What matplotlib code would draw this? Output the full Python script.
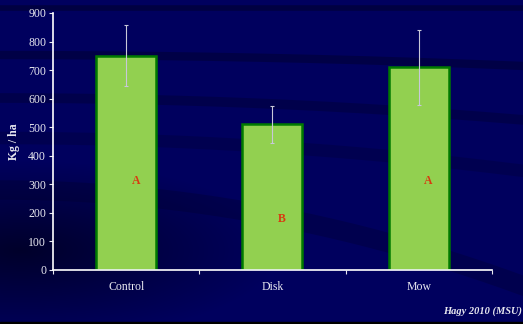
import numpy as np
import matplotlib.pyplot as plt
from matplotlib.colors import LinearSegmentedColormap

categories = ["Control", "Disk", "Mow"]
yield_kg_ha = [750, 510, 710]
yield_err = [107, 66, 132]
groups = ["A", "B", "A"]
group_label_y = [310, 180, 310]
yticks = [0, 100, 200, 300, 400, 500, 600, 700, 800, 900]

serif = ["Liberation Serif", "DejaVu Serif"]
navy = "#00005e"
fg = "#e8e8f0"

fig = plt.figure(figsize=(5.23, 3.24), dpi=100, facecolor=navy)

# Slide-style backdrop: navy field with darker sweeping bands
bg = fig.add_axes([0, 0, 1, 1], zorder=0)
bg.set_xlim(0, 523)
bg.set_ylim(324, 0)
bg.axis("off")
grad = np.zeros((324, 523, 4))
yy, xx = np.mgrid[0:324, 0:523]
dark = np.clip(1 - np.hypot((xx - 20) / 260, (yy - 250) / 90), 0, 1) * 0.55
grad[..., 3] = dark
bg.imshow(grad, extent=[0, 523, 324, 0], aspect="auto", zorder=1)
band_x = np.linspace(-10, 540, 200)
bands = [
    (8, 0.0, 4, 0.55),
    (55, 0.00004, 6, 0.45),
    (98, 0.00008, 7, 0.35),
    (138, 0.00012, 9, 0.25),
]
for y0, k, lw, a in bands:
    bg.plot(band_x, y0 + k * band_x ** 2, color="#00002a", lw=lw, alpha=a,
            solid_capstyle="butt", zorder=2)
bg.plot(band_x, 190 + 0.00035 * (band_x - 0) ** 2, color="#00002a", lw=14,
        alpha=0.3, zorder=2)
bg.add_patch(plt.Rectangle((0, 322), 523, 2, color="black", zorder=3))

ax = fig.add_axes([0.1013, 0.1667, 0.8394, 0.7932], zorder=1)
ax.patch.set_alpha(0)
x = np.arange(len(categories))
ax.bar(x, yield_kg_ha, width=0.41, color="#92d050", edgecolor="#007a00",
       linewidth=1.8, zorder=2)
ax.errorbar(x, yield_kg_ha, yerr=yield_err, fmt="none", ecolor="#c8c8d8",
            elinewidth=0.8, capsize=1.5, capthick=0.8, zorder=3)
for xi, g, gy in zip(x, groups, group_label_y):
    ax.text(xi + 0.065, gy, g, ha="center", va="center", color="#d83a10",
            fontsize=8.5, fontweight="bold", family=serif, zorder=4)

ax.set_xlim(-0.5, 2.5)
ax.set_ylim(0, 900)
ax.set_yticks(yticks)
ax.set_xticks([-0.5, 0.5, 1.5, 2.5], minor=False)
ax.set_xticklabels([])
ax.set_xticks(x, minor=True)
ax.set_xticklabels(categories, minor=True)
ax.tick_params(axis="x", which="minor", length=0, pad=8)
ax.tick_params(axis="x", which="major", length=3, color=fg, width=0.8)
ax.tick_params(axis="y", length=3, color=fg, width=0.8, pad=2)
for lab in ax.get_yticklabels() + ax.get_xticklabels(minor=True):
    lab.set_color(fg)
    lab.set_fontsize(8.5)
    lab.set_family(serif)
for s in ["top", "right"]:
    ax.spines[s].set_visible(False)
for s in ["left", "bottom"]:
    ax.spines[s].set_color("white")
    ax.spines[s].set_linewidth(1.2)
ax.set_ylabel("Kg / ha", color=fg, fontsize=8.5, fontweight="bold",
              family=serif, labelpad=6)

fig.text(0.998, 0.040, "Hagy 2010 (MSU)", ha="right", va="center",
         color=fg, fontsize=7.5, fontweight="bold", fontstyle="italic",
         family=serif)

fig.savefig("out.png", dpi=100, facecolor=navy)
